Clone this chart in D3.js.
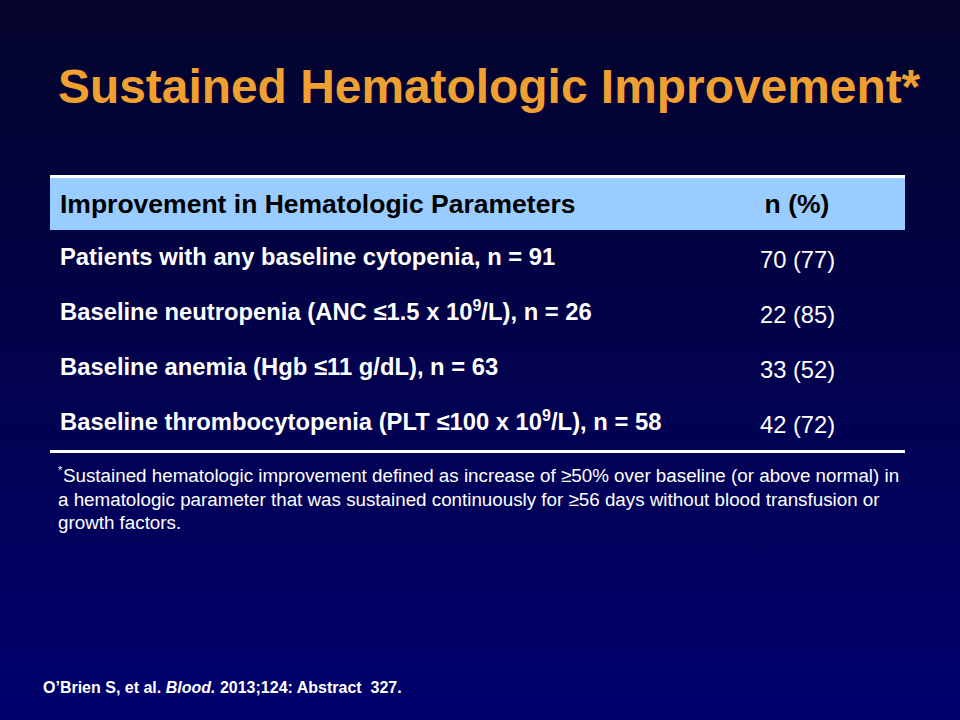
<!DOCTYPE html>
<html>
<head>
<meta charset="utf-8">
<script src="https://cdn.jsdelivr.net/npm/d3@7"></script>
<style>
  body { margin: 0; background: #000; }
  svg { display: block; font-family: "Liberation Sans", Arial, sans-serif; }
</style>
</head>
<body>
<svg id="slide" width="960" height="720"></svg>
<script>
// Table content
const headerLabels = ["Improvement in Hematologic Parameters", "n (%)"];
const rowLabels = [
    ["Patients with any baseline cytopenia, n = 91"],
    ["Baseline neutropenia (ANC \u22641.5 x 10", "9", "/L), n = 26"],
    ["Baseline anemia (Hgb \u226411 g/dL), n = 63"],
    ["Baseline thrombocytopenia (PLT \u2264100 x 10", "9", "/L), n = 58"]
];
const nValues = [70, 22, 33, 42];
const pctValues = [77, 85, 52, 72];

const footnoteLines = [
    "Sustained hematologic improvement defined as increase of \u226550% over baseline (or above normal) in",
    "a hematologic parameter that was sustained continuously for \u226556 days without blood transfusion or",
    "growth factors."
];

const svg = d3.select("#slide");
const width = +svg.attr("width");
const height = +svg.attr("height");

// background gradient
const grad = svg.append("defs").append("linearGradient")
    .attr("id", "bg").attr("x1", 0).attr("y1", 0).attr("x2", 0).attr("y2", 1);
grad.append("stop").attr("offset", "0%").attr("stop-color", "#04042c");
grad.append("stop").attr("offset", "100%").attr("stop-color", "#00006e");
svg.append("rect").attr("width", width).attr("height", height).attr("fill", "url(#bg)");

// title
svg.append("text")
    .attr("x", 58).attr("y", 103)
    .attr("fill", "#f0a030")
    .attr("font-size", 47.9).attr("font-weight", "bold")
    .text("Sustained Hematologic Improvement*");

// table frame
const tableLeft = 50, tableRight = 905;
svg.append("rect")
    .attr("x", tableLeft).attr("y", 178)
    .attr("width", tableRight - tableLeft).attr("height", 52)
    .attr("fill", "#99ccff");
svg.append("rect")
    .attr("x", tableLeft).attr("y", 175)
    .attr("width", tableRight - tableLeft).attr("height", 3)
    .attr("fill", "#ffffff");
svg.append("rect")
    .attr("x", tableLeft).attr("y", 450)
    .attr("width", tableRight - tableLeft).attr("height", 3)
    .attr("fill", "#ffffff");

svg.append("text")
    .attr("x", 60).attr("y", 213)
    .attr("font-size", 26.5).attr("font-weight", "bold").attr("fill", "#000")
    .text(headerLabels[0]);
svg.append("text")
    .attr("x", 797).attr("y", 213)
    .attr("text-anchor", "middle")
    .attr("font-size", 26.5).attr("font-weight", "bold").attr("fill", "#000")
    .text(headerLabels[1]);

// rows
const y = d3.scaleBand()
    .domain(d3.range(rowLabels.length))
    .range([237, 457]);

const rows = svg.selectAll(".row")
    .data(rowLabels.map((label, i) => ({ label, n: nValues[i], pct: pctValues[i], i })))
    .enter()
    .append("g")
    .attr("class", "row")
    .attr("transform", d => `translate(0,${y(d.i)})`);

rows.each(function (d) {
    const g = d3.select(this);
    const t = g.append("text")
        .attr("x", 60).attr("y", 28)
        .attr("font-size", 23.8).attr("font-weight", "bold").attr("fill", "#fff");
    t.append("tspan").text(d.label[0]);
    if (d.label.length > 1) {
        t.append("tspan").attr("dy", -9).attr("font-size", 16).text(d.label[1]);
        t.append("tspan").attr("dy", 9).text(d.label[2]);
    }
    g.append("text")
        .attr("x", 760).attr("y", 30.5)
        .attr("font-size", 23.7).attr("fill", "#fff")
        .text(`${d.n} (${d.pct})`);
});

// footnote
const foot = svg.append("g").attr("fill", "#fff").attr("font-size", 18.8);
foot.selectAll("text")
    .data(footnoteLines)
    .enter()
    .append("text")
    .attr("x", (d, i) => i === 0 ? 63 : 58)
    .attr("y", (d, i) => 482 + i * 23.5)
    .text(d => d);
foot.append("text")
    .attr("x", 58).attr("y", 474)
    .attr("font-size", 11)
    .text("*");

// citation
const cite = svg.append("text")
    .attr("x", 43).attr("y", 693)
    .attr("font-size", 16).attr("font-weight", "bold").attr("fill", "#fff");
cite.append("tspan").text("O\u2019Brien S, et al. ");
cite.append("tspan").attr("font-style", "italic").text("Blood.");
cite.append("tspan").text(" 2013;124: Abstract\u00a0 327.");
</script>
</body>
</html>
